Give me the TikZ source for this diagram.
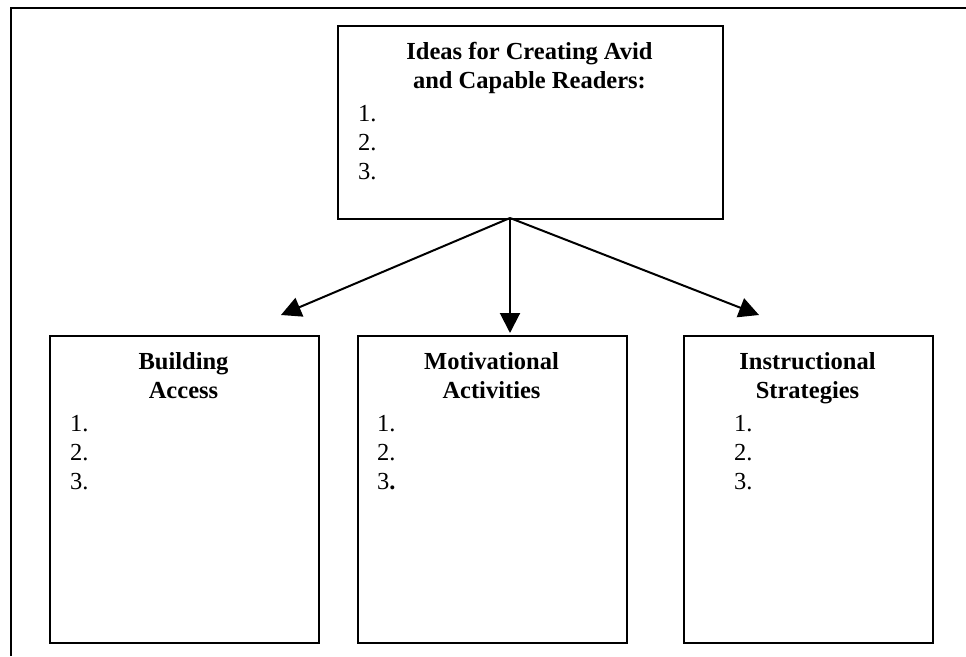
\documentclass[tikz,border=0pt]{standalone}
\usepackage{fontspec}
\setmainfont{Liberation Serif}
\usetikzlibrary{arrows.meta}
\begin{document}
\begin{tikzpicture}[x=1pt,y=-1pt,
  box/.style={draw=black,line width=1.6pt,inner sep=0pt,anchor=north west},
  ttl/.style={anchor=base,inner sep=0pt,font=\fontsize{24.5}{29.5}\selectfont\bfseries},
  itm/.style={anchor=base west,inner sep=0pt,font=\fontsize{24.5}{29.5}\selectfont},
  arr/.style={line width=2pt,-{Triangle[length=20pt,width=20pt]}}]
\useasboundingbox (0,0) rectangle (966,656);
% outer frame
\draw[line width=1.6pt] (11,656) -- (11,8) -- (966,8);
% boxes
\node[box,minimum width=385pt,minimum height=193pt] (top) at (337,25) {};
\node[box,minimum width=269pt,minimum height=307pt] (bl) at (49,335) {};
\node[box,minimum width=269pt,minimum height=307pt] (bm) at (357,335) {};
\node[box,minimum width=249pt,minimum height=307pt] (br) at (683,335) {};
% top box text
\node[ttl] (ta) at (529.5,59) {Ideas for Creating Avid};
\node[ttl] (tb) at (529.5,88) {and Capable Readers:};
\node[itm] (t1) at (358,121) {1.};
\node[itm] (t2) at (358,150) {2.};
\node[itm] (t3) at (358,179) {3.};
% left box text
\node[ttl] (la) at (183.5,369) {Building};
\node[ttl] (lb) at (183.5,398) {Access};
\node[itm] (l1) at (70,431) {1.};
\node[itm] (l2) at (70,460) {2.};
\node[itm] (l3) at (70,489) {3.};
% middle box text
\node[ttl] (ma) at (491.5,369) {Motivational};
\node[ttl] (mb) at (491.5,398) {Activities};
\node[itm] (m1) at (377,431) {1.};
\node[itm] (m2) at (377,460) {2.};
\node[itm] (m3) at (377,489) {3\textbf{.}};
% right box text
\node[ttl] (ra) at (807.5,369) {Instructional};
\node[ttl] (rb) at (807.5,398) {Strategies};
\node[itm] (r1) at (734,431) {1.};
\node[itm] (r2) at (734,460) {2.};
\node[itm] (r3) at (734,489) {3.};
% connectors
\coordinate (src) at (510,218);
\coordinate (tipL) at (281,315);
\coordinate (tipM) at (510,333);
\coordinate (tipR) at (759,315);
\draw[arr] (src) -- (tipL);
\draw[arr] (src) -- (tipM);
\draw[arr] (src) -- (tipR);
\end{tikzpicture}
\end{document}
